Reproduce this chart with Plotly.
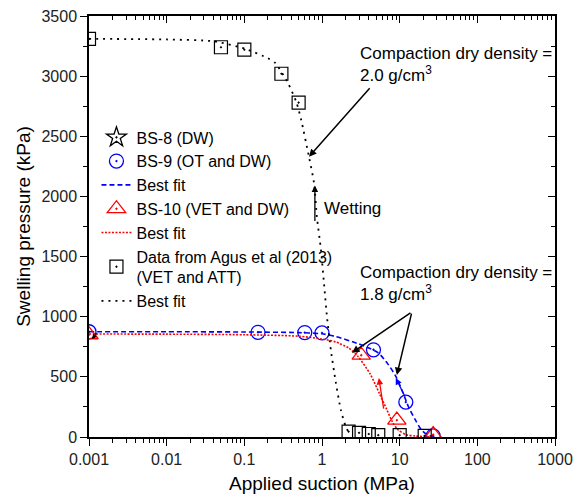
import math
import plotly.graph_objects as go

# ---------------- data ----------------
# BS-8 (DW): no visible points in the chart
bs8_suction = [None]
bs8_pressure = [None]

bs9_suction = [0.001, 0.15, 0.6, 1.0, 4.6, 12, 27]
bs9_pressure = [875, 870, 868, 865, 725, 290, 10]

bs9_fit_suction = [0.001, 0.01, 0.1, 0.5, 1, 1.5, 2.8, 4, 5.3, 7, 9, 11, 13, 16, 19, 23, 28]
bs9_fit_pressure = [875, 875, 873, 868, 858, 835, 780, 740, 700, 610, 500, 370, 250, 140, 60, 15, 0]

bs10_suction = [0.001, 3.2, 9.2, 27]
bs10_pressure = [850, 680, 140, 20]

bs10_fit_suction = [0.001, 0.01, 0.1, 0.5, 1, 1.5, 2.2, 2.9, 4.2, 5.5, 6.8, 8, 9.5, 12, 16, 22, 27]
bs10_fit_pressure = [856, 855, 850, 838, 815, 790, 740, 670, 520, 360, 230, 130, 60, 20, 8, 3, 0]

agus_suction = [0.001, 0.05, 0.1, 0.3, 0.5, 2.2, 3.0, 4.0, 5.3, 10, 21]
agus_pressure = [3310, 3240, 3220, 3020, 2780, 45, 35, 25, 15, 15, 10]

agus_fit_suction = [0.001, 0.01, 0.04, 0.1, 0.2, 0.25, 0.37, 0.47, 0.54, 0.68, 0.79,
                    0.86, 0.97, 1.06, 1.16, 1.3, 1.51, 1.75, 2.03, 2.3]
agus_fit_pressure = [3310, 3305, 3290, 3230, 3150, 3110, 2935, 2780, 2635, 2328, 2111,
                     1829, 1554, 1280, 997, 723, 449, 224, 83, 20]

x_tickvals = [0.001, 0.01, 0.1, 1, 10, 100, 1000]
x_ticktext = ["0.001", "0.01", "0.1", "1", "10", "100", "1000"]
y_tickvals = [0, 500, 1000, 1500, 2000, 2500, 3000, 3500]

# ---------------- figure ----------------
FONT = "Liberation Sans, Arial, sans-serif"
fig = go.Figure()

fig.add_trace(go.Scatter(x=bs8_suction, y=bs8_pressure, mode="markers", name="BS-8 (DW)",
                         marker=dict(symbol="star-open-dot", size=15, color="black",
                                     line=dict(width=1.3, color="black"))))
fig.add_trace(go.Scatter(x=bs9_suction, y=bs9_pressure, mode="markers", name="BS-9 (OT and DW)",
                         marker=dict(symbol="circle-open-dot", size=14, color="#0000ff",
                                     line=dict(width=1.3, color="#0000ff"))))
fig.add_trace(go.Scatter(x=bs9_fit_suction, y=bs9_fit_pressure, mode="lines", name="Best fit",
                         line=dict(color="#0000ff", width=1.6, dash="5px,3px",
                                   shape="spline", smoothing=0.7)))
fig.add_trace(go.Scatter(x=bs10_suction, y=bs10_pressure, mode="markers", name="BS-10 (VET and DW)",
                         marker=dict(symbol="triangle-up-open-dot", size=16, color="#ff0000",
                                     line=dict(width=1.3, color="#ff0000"))))
fig.add_trace(go.Scatter(x=bs10_fit_suction, y=bs10_fit_pressure, mode="lines", name="Best fit",
                         line=dict(color="#ff0000", width=1.6, dash="2px,1.5px",
                                   shape="spline", smoothing=0.7)))
fig.add_trace(go.Scatter(x=agus_suction, y=agus_pressure, mode="markers",
                         name="Data from Agus et al (2013)<br>(VET and ATT)",
                         marker=dict(symbol="square-open-dot", size=13, color="black",
                                     line=dict(width=1.2, color="black"))))
fig.add_trace(go.Scatter(x=agus_fit_suction, y=agus_fit_pressure, mode="lines", name="Best fit",
                         line=dict(color="black", width=1.8, dash="2px,5px",
                                   shape="spline", smoothing=0.6)))
# helper trace so the mirrored (top/right) axes are drawn
fig.add_trace(go.Scatter(x=[None], y=[None], xaxis="x2", yaxis="y2", showlegend=False,
                         hoverinfo="skip"))

minor_x = [m * 10 ** e for e in range(-3, 3) for m in range(2, 10)]

common_x = dict(type="log", range=[-3, 3], showline=True, linecolor="black", linewidth=1.5,
                showgrid=False, zeroline=False, tickmode="array", tickvals=x_tickvals,
                tickcolor="black", tickwidth=1.3, ticklen=7)
common_y = dict(range=[0, 3500], showline=True, linecolor="black", linewidth=1.5,
                showgrid=False, zeroline=False, tickmode="array", tickvals=y_tickvals,
                tickcolor="black", tickwidth=1.3, ticklen=7)

fig.update_layout(
    width=583, height=498,
    margin=dict(l=89, r=28, t=16, b=61, autoexpand=False),
    paper_bgcolor="white", plot_bgcolor="white",
    font=dict(family=FONT, size=16, color="black"),
    xaxis=dict(**common_x, ticks="outside", ticktext=x_ticktext,
               tickfont=dict(size=16, color="#222"),
               minor=dict(tickmode="array", tickvals=minor_x, ticks="outside", ticklen=4,
                          tickcolor="black", tickwidth=1.1, showgrid=False),
               title=dict(text="Applied suction (MPa)", font=dict(size=19), standoff=10)),
    yaxis=dict(**common_y, ticks="outside",
               tickfont=dict(size=16, color="#222"),
               minor=dict(dtick=250, tick0=0, ticks="outside", ticklen=4,
                          tickcolor="black", tickwidth=1.1, showgrid=False),
               title=dict(text="Swelling pressure (kPa)", font=dict(size=19), standoff=6)),
    xaxis2=dict(**common_x, overlaying="x", side="top", anchor="y", ticks="inside",
                showticklabels=False,
                minor=dict(tickmode="array", tickvals=minor_x, ticks="inside", ticklen=4,
                           tickcolor="black", tickwidth=1.1, showgrid=False)),
    yaxis2=dict(**common_y, overlaying="y", side="right", anchor="x", ticks="inside",
                showticklabels=False,
                minor=dict(dtick=250, tick0=0, ticks="inside", ticklen=4,
                           tickcolor="black", tickwidth=1.1, showgrid=False)),
    legend=dict(x=0.016, y=0.752, xanchor="left", yanchor="top", bgcolor="rgba(0,0,0,0)",
                font=dict(family=FONT, size=16, color="black"), tracegroupgap=0,
                itemwidth=30),
    showlegend=True,
)

lx = math.log10
ann = []
# text labels
ann.append(dict(xref="paper", yref="paper", x=0.578, y=0.938, xanchor="left", yanchor="top",
                align="left", showarrow=False,
                text="Compaction dry density =<br>2.0 g/cm<sup>3</sup>",
                font=dict(size=17, family=FONT, color="black")))
ann.append(dict(xref="paper", yref="paper", x=0.578, y=0.418, xanchor="left", yanchor="top",
                align="left", showarrow=False,
                text="Compaction dry density =<br>1.8 g/cm<sup>3</sup>",
                font=dict(size=17, family=FONT, color="black")))
ann.append(dict(x=lx(1.0), y=1900, xref="x", yref="y", xanchor="left", yanchor="middle",
                showarrow=False, text="Wetting", font=dict(size=17, family=FONT, color="black")))
# arrows
arrow = dict(xref="x", yref="y", text="", showarrow=True, arrowhead=2, arrowsize=1,
             arrowwidth=1.5)
ann.append(dict(arrow, x=lx(0.68), y=2330, ax=62, ay=-70, arrowcolor="black"))
ann.append(dict(arrow, x=lx(2.43), y=700, ax=60, ay=-41, arrowcolor="black"))
ann.append(dict(arrow, x=lx(9.2), y=515, ax=15, ay=-63, arrowcolor="black"))
ann.append(dict(arrow, x=lx(0.81), y=2090, ax=0, ay=37, arrowcolor="black", arrowwidth=1.3))
ann.append(dict(arrow, x=lx(5.4), y=490, ax=5, ay=32, arrowcolor="#ff0000", arrowwidth=1.3))
ann.append(dict(arrow, x=lx(8.9), y=490, ax=10, ay=20, arrowcolor="#0000ff", arrowwidth=1.3))
ann.append(dict(arrow, x=lx(0.00109), y=815, ax=6, ay=-7, arrowcolor="black", arrowwidth=1.2,
                arrowsize=0.8))
fig.update_layout(annotations=ann)

# remove the default 8px page margin so the 583x498 figure fills the window exactly
fig.write_html("out.html", config={"displayModeBar": False},
               post_script="document.body.style.margin='0';")
